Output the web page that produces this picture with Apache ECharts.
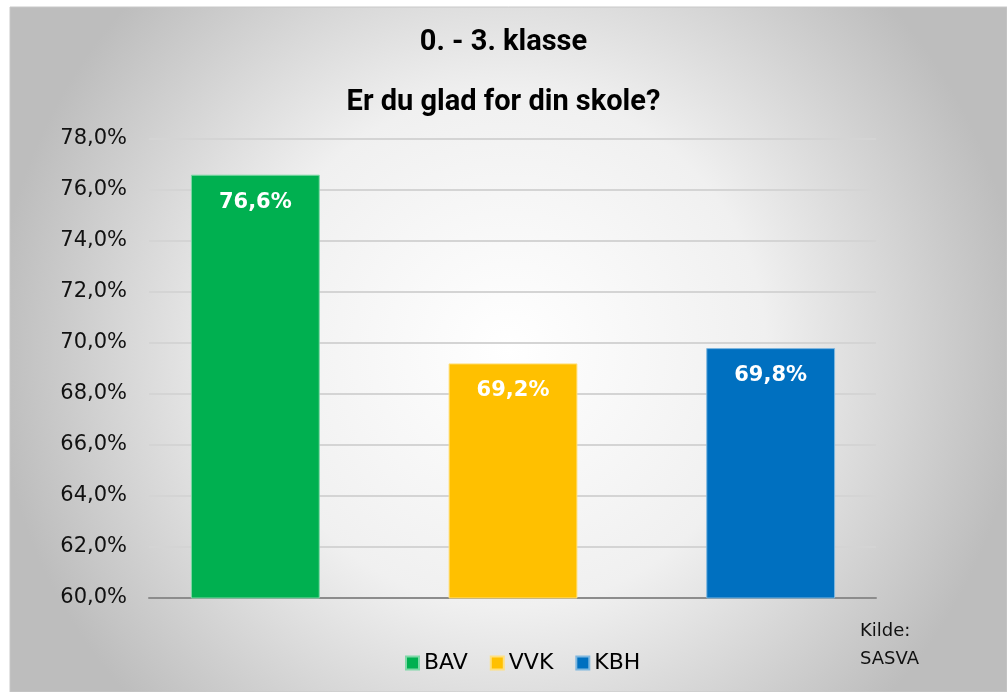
<!DOCTYPE html>
<html>
<head>
<meta charset="utf-8">
<script src="https://cdn.jsdelivr.net/npm/echarts@6/dist/echarts.min.js"></script>
<style>
  html, body { margin: 0; padding: 0; background: #fff; }
  #chart { width: 1007px; height: 692px; }
</style>
</head>
<body>
<div id="chart"></div>
<script>
(function (echarts) {

    var categories = ["BAV", "VVK", "KBH"];
    var values = [76.6, 69.2, 69.8];
    var colors = ["#00b050", "#ffc000", "#0070c0"];
    var borders = ["#7fd8a7", "#ffe07f", "#7fb7df"];

    var yMin = 60, yMax = 78, yStep = 2;

    function pct(v) {
        return v.toFixed(1).replace(".", ",") + "%";
    }

    var series = categories.map(function (name, i) {
        return {
            name: name,
            type: "bar",
            xAxisIndex: 1,
            yAxisIndex: 1,
            barWidth: "50%",
            barGap: "-100%",
            data: categories.map(function (c, j) { return j === i ? values[j] : "-"; }),
            itemStyle: { color: colors[i], borderColor: borders[i], borderWidth: 1 },
            label: {
                show: true,
                position: "insideTop",
                distance: 17,
                formatter: function (p) { return pct(p.value); },
                color: "#fff",
                fontFamily: "'DejaVu Sans', sans-serif",
                fontWeight: "bold",
                fontSize: 21
            }
        };
    });

    var chart = echarts.init(document.getElementById("chart"));
    chart.setOption({
        animation: false,
        graphic: [{
            type: "rect",
            z: -10,
            shape: { x: 10, y: 7, width: 997, height: 685 },
            style: {
                fill: new echarts.graphic.RadialGradient(0.5, 0.5, 0.75, [
                    { offset: 0, color: "#ffffff" },
                    { offset: 0.5, color: "#f0f0f0" },
                    { offset: 1, color: "#bdbdbd" }
                ]),
                stroke: "#c8c8c8",
                lineWidth: 1
            }
        }, {
            type: "text",
            left: 860,
            top: 617,
            style: {
                text: "Kilde:\nSASVA",
                fill: "#111",
                font: "18px 'DejaVu Sans', sans-serif",
                lineHeight: 28
            }
        }],
        title: [{
            text: "0. - 3. klasse",
            left: "center",
            top: 23,
            textStyle: {
                fontFamily: "Roboto, sans-serif",
                fontWeight: "bold",
                fontSize: 29,
                color: "#000"
            }
        }, {
            text: "Er du glad for din skole?",
            left: "center",
            top: 83,
            textStyle: {
                fontFamily: "Roboto, sans-serif",
                fontWeight: "bold",
                fontSize: 29,
                color: "#000"
            }
        }],
        legend: {
            data: categories,
            left: 400,
            top: 647,
            icon: "rect",
            itemWidth: 13,
            itemHeight: 13,
            itemGap: 22,
            textStyle: { fontFamily: "'DejaVu Sans', sans-serif", fontSize: 22, color: "#000" }
        },
        grid: [
            { left: 149, right: 131, top: 139, bottom: 94 },
            { left: 126.5, right: 107.5, top: 139, bottom: 94 }
        ],
        xAxis: [{
            type: "category",
            gridIndex: 0,
            data: categories,
            axisLine: { show: true, lineStyle: { color: "#8c8c8c", width: 2 } },
            axisTick: { show: false },
            axisLabel: { show: false }
        }, {
            type: "category",
            gridIndex: 1,
            data: categories,
            show: false
        }],
        yAxis: [{
            type: "value",
            gridIndex: 0,
            min: yMin,
            max: yMax,
            interval: yStep,
            axisLine: { show: false },
            axisTick: { show: false },
            splitLine: { lineStyle: { color: "#d4d4d4", width: 2 } },
            axisLabel: {
                margin: 22,
                formatter: function (v) { return pct(v); },
                fontFamily: "'DejaVu Sans', sans-serif",
                fontSize: 21,
                color: "#111"
            }
        }, {
            type: "value",
            gridIndex: 1,
            min: yMin,
            max: yMax,
            interval: yStep,
            show: false,
            splitLine: { show: false }
        }],
        series: series
    });

})(echarts);
</script>
</body>
</html>
